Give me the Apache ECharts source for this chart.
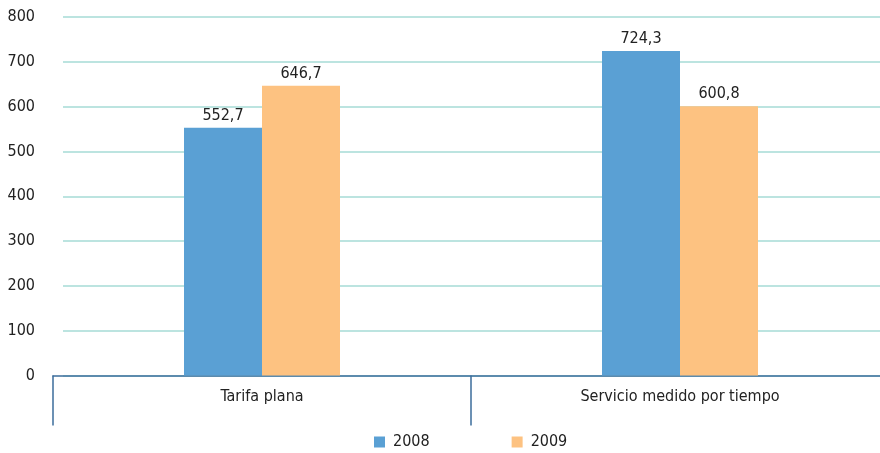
<!DOCTYPE html>
<html>
<head>
<meta charset="utf-8">
<script src="https://cdn.jsdelivr.net/npm/echarts@6/dist/echarts.min.js"></script>
<style>html,body{margin:0;padding:0;background:#fff;overflow:hidden}#c{width:889px;height:453px}</style>
</head>
<body>
<div id="c"></div>
<script>
var categories = ['Tarifa plana', 'Servicio medido por tiempo'];
var seriesNames = ['2008', '2009'];
var values2008 = [552.7, 724.3];
var values2009 = [646.7, 600.8];
var yTicks = [0, 100, 200, 300, 400, 500, 600, 700, 800];

var FONT = '"Liberation Sans Narrow", "DejaVu Sans Condensed", sans-serif';
var chart = echarts.init(document.getElementById('c'));
function fmt(p) { return p.value.toFixed(1).replace('.', ','); }
chart.setOption({
  animation: false,
  grid: [
    { left: 53, right: 0, top: 17, bottom: 77.5 },
    { left: 63, right: 9, top: 17, bottom: 77.5 }
  ],
  legend: {
    left: 369, top: 429,
    itemWidth: 11, itemHeight: 11, itemGap: 82,
    icon: 'rect',
    textStyle: { fontFamily: FONT, fontSize: 16, color: '#222', padding: [0, 0, 0, 3] },
    data: seriesNames
  },
  xAxis: [
    {
      type: 'category', gridIndex: 0, data: categories,
      axisLine: { lineStyle: { color: '#3d6d9c', width: 1.5 } },
      axisTick: { show: true, length: 50, lineStyle: { color: '#3d6d9c', width: 1.5 } },
      axisLabel: { fontFamily: FONT, fontSize: 16, color: '#222', margin: 13 }
    },
    { type: 'value', gridIndex: 1, show: false, min: 0, max: 1 }
  ],
  yAxis: [
    { type: 'value', gridIndex: 0, min: 0, max: 800, interval: 100, show: false, splitLine: { show: false } },
    {
      type: 'value', gridIndex: 1, min: yTicks[0], max: yTicks[yTicks.length - 1], interval: 100,
      axisLine: { show: false }, axisTick: { show: false },
      axisLabel: { fontFamily: FONT, fontSize: 16, color: '#222', margin: 28 },
      splitLine: { lineStyle: { color: '#a6dbd6', width: 1.5 } }
    }
  ],
  series: [
    {
      name: seriesNames[0], type: 'bar', xAxisIndex: 0, yAxisIndex: 0, data: values2008,
      barWidth: 78, barGap: '0%', itemStyle: { color: '#5aa0d4' }, z: 3,
      label: { show: true, position: 'top', distance: 4, formatter: fmt, fontFamily: FONT, fontSize: 16, color: '#222' }
    },
    {
      name: seriesNames[1], type: 'bar', xAxisIndex: 0, yAxisIndex: 0, data: values2009,
      barWidth: 78, barGap: '0%', itemStyle: { color: '#fdc281' }, z: 3,
      label: { show: true, position: 'top', distance: 4, formatter: fmt, fontFamily: FONT, fontSize: 16, color: '#222' }
    }
  ]
});
</script>
</body>
</html>
